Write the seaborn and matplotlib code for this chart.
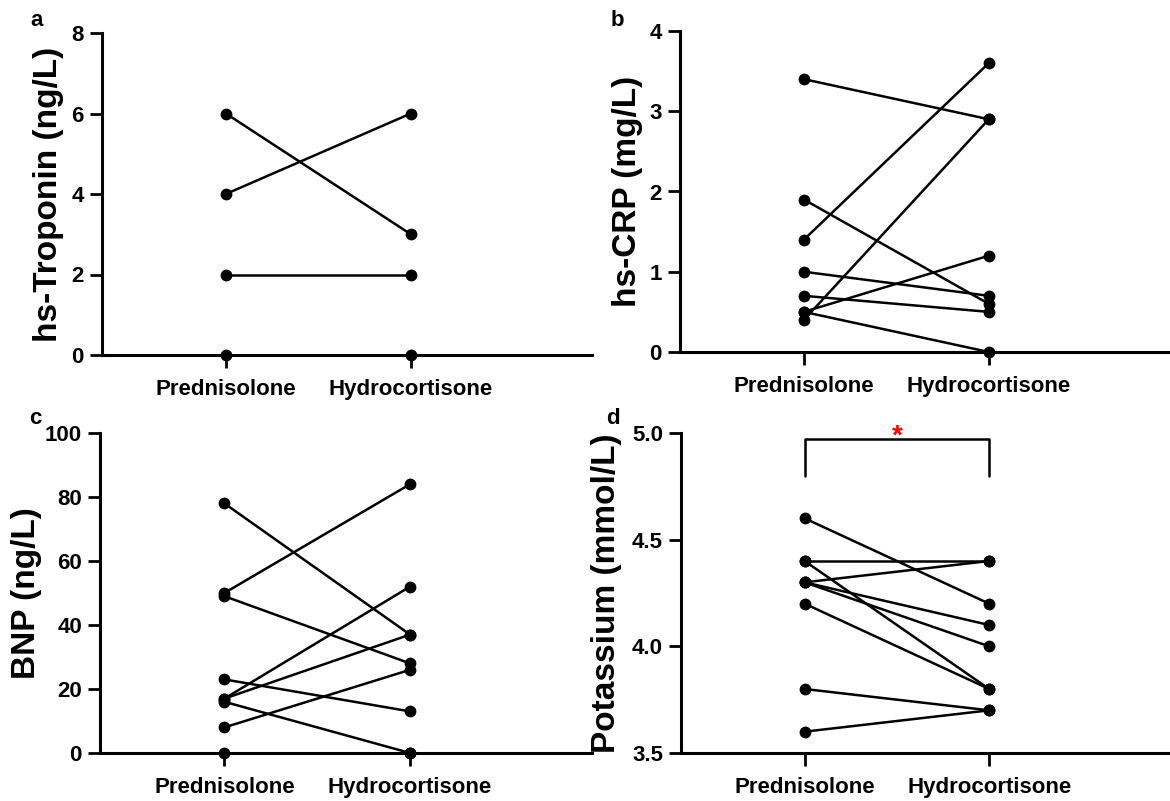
import matplotlib
matplotlib.use("Agg")
import matplotlib.pyplot as plt
import seaborn as sns
import pandas as pd

sns.set_theme(style="ticks")
plt.rcParams['font.family'] = ['Liberation Sans', 'DejaVu Sans']
plt.rcParams['font.weight'] = 'bold'
plt.rcParams['text.color'] = 'black'
plt.rcParams['axes.labelcolor'] = 'black'
plt.rcParams['xtick.color'] = 'black'
plt.rcParams['ytick.color'] = 'black'

groups = ["Prednisolone", "Hydrocortisone"]

# paired values (Prednisolone, Hydrocortisone)
trop_pred = [6, 4, 2, 0]
trop_hydro = [3, 6, 2, 0]

crp_pred = [3.4, 1.4, 0.4, 1.9, 1.0, 0.7, 0.5, 0.5]
crp_hydro = [2.9, 3.6, 2.9, 0.6, 0.7, 0.5, 1.2, 0.0]

bnp_pred = [78, 50, 49, 23, 17, 17, 16, 8, 0]
bnp_hydro = [37, 84, 28, 13, 52, 37, 0, 26, 0]

k_pred = [4.6, 4.4, 4.4, 4.3, 4.3, 4.3, 4.2, 3.8, 3.6]
k_hydro = [4.2, 4.4, 3.8, 4.4, 4.1, 4.0, 3.8, 3.7, 3.7]

panels = [
    dict(pred=trop_pred, hydro=trop_hydro, ylabel="hs-Troponin (ng/L)",
         ylim=(0, 8), yticks=[0, 2, 4, 6, 8], ticklabels=["0", "2", "4", "6", "8"],
         rect=[102, 33, 592, 355], label="a", lpos=(37, 20), ylx=-0.078),
    dict(pred=crp_pred, hydro=crp_hydro, ylabel="hs-CRP (mg/L)",
         ylim=(0, 4), yticks=[0, 1, 2, 3, 4], ticklabels=["0", "1", "2", "3", "4"],
         rect=[680, 31, 1170, 352], label="b", lpos=(617, 20), ylx=-0.075),
    dict(pred=bnp_pred, hydro=bnp_hydro, ylabel="BNP (ng/L)",
         ylim=(0, 100), yticks=[0, 20, 40, 60, 80, 100],
         ticklabels=["0", "20", "40", "60", "80", "100"],
         rect=[100, 433, 592, 753], label="c", lpos=(35, 418), ylx=-0.118),
    dict(pred=k_pred, hydro=k_hydro, ylabel="Potassium (mmol/L)",
         ylim=(3.5, 5.0), yticks=[3.5, 4.0, 4.5, 5.0],
         ticklabels=["3.5", "4.0", "4.5", "5.0"],
         rect=[681, 433, 1170, 753], label="d", lpos=(613, 418), ylx=-0.12),
]

W, H = 1170, 801
fig = plt.figure(figsize=(W / 100, H / 100), dpi=100)

for p in panels:
    x0, y0, x1, y1 = p["rect"]
    ax = fig.add_axes([x0 / W, (H - y1) / H, (x1 - x0) / W, (y1 - y0) / H])
    n = len(p["pred"])
    df = pd.DataFrame({
        "subject": list(range(n)) * 2,
        "pos": [0] * n + [1] * n,
        "value": list(p["pred"]) + list(p["hydro"]),
    })
    sns.lineplot(data=df, x="pos", y="value", units="subject", estimator=None,
                 color="black", marker="o", markersize=8.5, markeredgewidth=0,
                 linewidth=1.8, sort=False, ax=ax, clip_on=False, zorder=3)
    ax.set_xlim(-0.67, 1.98)
    ax.set_ylim(*p["ylim"])
    ax.set_xticks([0, 1])
    ax.set_xticklabels(groups, fontsize=16, fontweight="bold", color="black")
    ax.set_yticks(p["yticks"])
    ax.set_yticklabels(p["ticklabels"], fontsize=16, fontweight="bold", color="black")
    ax.set_xlabel("")
    ax.set_ylabel(p["ylabel"], fontsize=24, fontweight="bold", color="black")
    ax.yaxis.set_label_coords(p["ylx"], 0.5)
    for side in ["top", "right"]:
        ax.spines[side].set_visible(False)
    for side in ["left", "bottom"]:
        ax.spines[side].set_linewidth(2.2)
        ax.spines[side].set_color("black")
    ax.tick_params(axis="both", direction="out", length=9, width=2, colors="black", pad=4)
    ax.tick_params(axis="x", pad=8)
    fig.text(p["lpos"][0] / W, 1 - p["lpos"][1] / H, p["label"], fontsize=16,
             fontweight="bold", ha="center", va="center", color="black")
    if p["label"] == "d":
        ax.plot([0, 0, 1, 1], [4.80, 4.97, 4.97, 4.80], color="black", lw=1.8,
                clip_on=False)
        ax.text(0.5, 4.985, "*", color="red", fontsize=20, fontweight="bold",
                ha="center", va="center")

fig.savefig("out.png", dpi=100)
